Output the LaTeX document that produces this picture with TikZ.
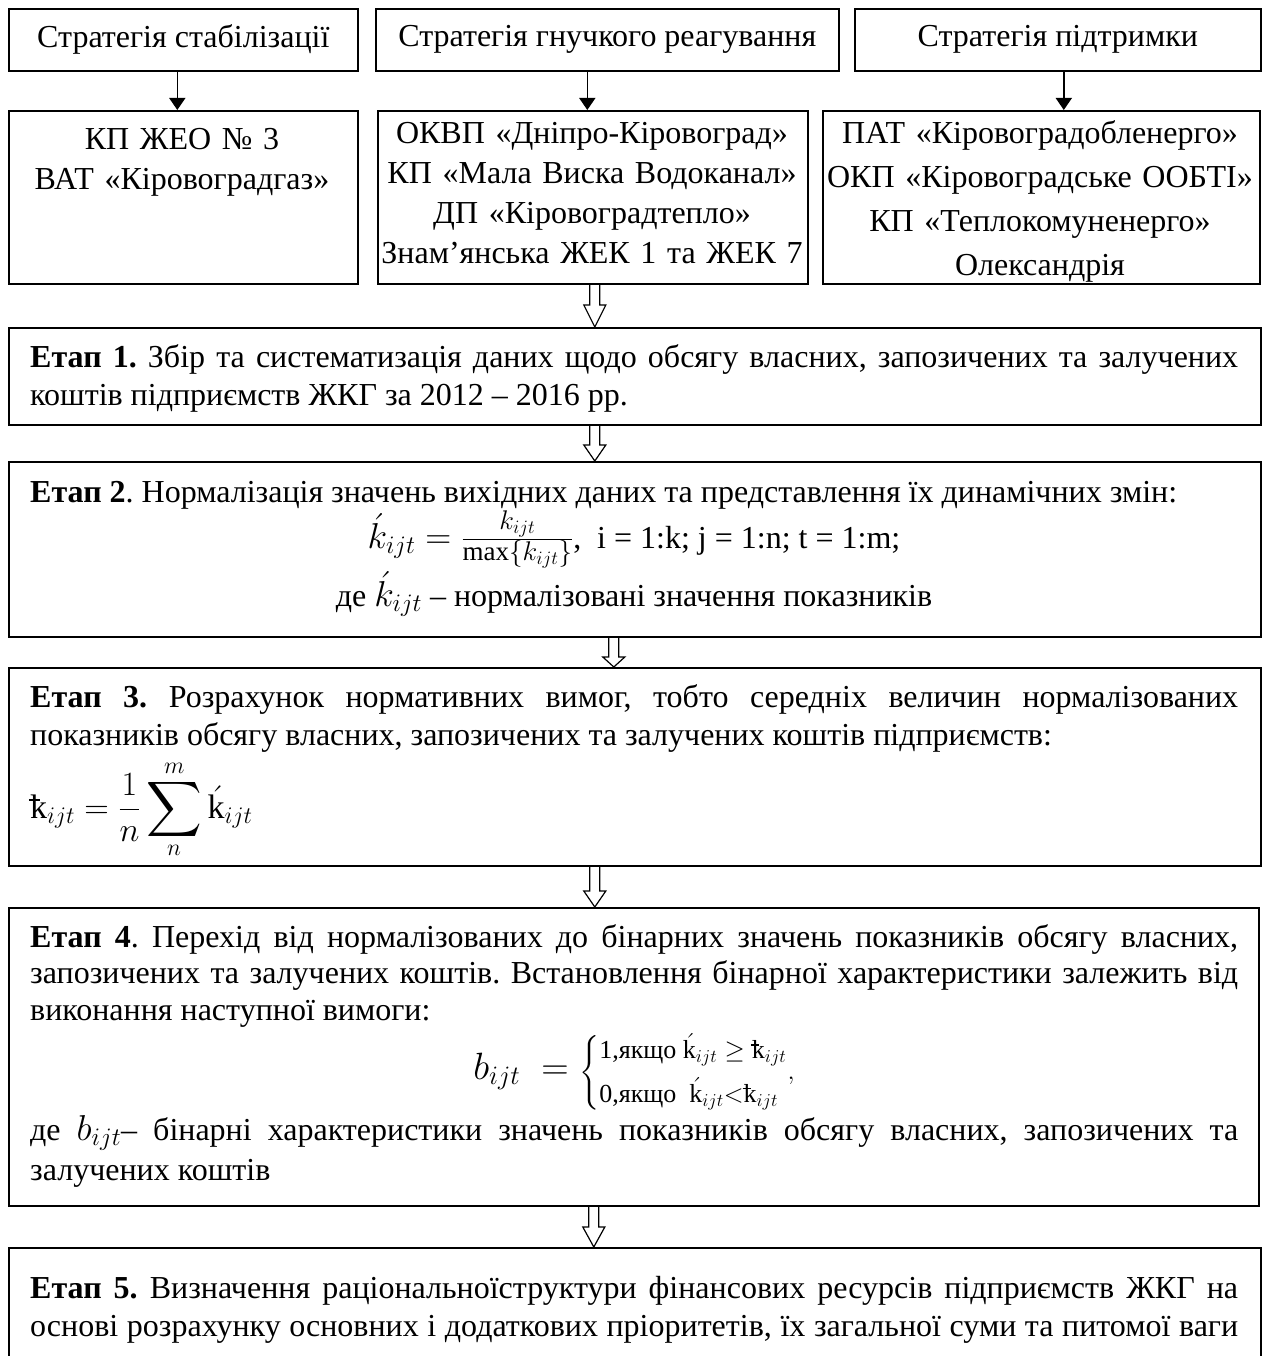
\RequirePackage{fix-cm}
\documentclass[tikz,border=0pt]{standalone}
\usepackage{amsmath}
\usepackage{graphicx}
\usepackage{fontspec}
\setmainfont{Liberation Serif}
\usetikzlibrary{arrows.meta,calc}
\newcommand\kst{\mathord{\rlap{\kern-0.04em\rule[0.5em]{0.32em}{0.05em}}\mathrm{k}}}
\newcommand\kac{\acute{\mathrm{k}}}
\newcommand\mbig[1]{{\fontsize{36}{38}\selectfont$#1$}}
\newcommand\bigsum{\mathop{\vcenter{\hbox{\scalebox{1.55}{$\displaystyle\sum$}}}}\limits}
\newcommand\harrow[3]{\draw[hollow] let \p1=(#1), \p2=(#2) in
  (\x1-5pt,\y1) -- (\x1-5pt,\y2+#3) -- (\x1-11pt,\y2+#3) -- (\x1,\y2)
  -- (\x1+11pt,\y2+#3) -- (\x1+5pt,\y2+#3) -- (\x1+5pt,\y1);}
\begin{document}
\frenchspacing
\begin{tikzpicture}[x=1pt,y=-1pt,
  box/.style={draw, line width=1.6pt, anchor=north west, inner sep=0pt},
  txt/.style={font=\fontsize{32}{38}\selectfont, inner sep=0pt},
  ctxt/.style={inner sep=0pt, align=center, anchor=base},
  para/.style={txt, text width=1208pt, align=justify, anchor=base west},
  arr/.style={line width=1.6pt, -{Triangle[width=16pt,length=12pt]}},
  hollow/.style={line width=1.2pt, line join=miter}]
\useasboundingbox (0,0) rectangle (1267,1356);
% top row
\node[box, minimum width=349pt, minimum height=62pt] (s1) at (8,8) {};
\node[box, minimum width=463pt, minimum height=62pt] (s2) at (375,8) {};
\node[box, minimum width=406pt, minimum height=62pt] (s3) at (854,8) {};
\node[txt] (ts1) at (s1.center) {Стратегія стабілізації};
\node[txt] (ts2) at (s2.center) {Стратегія гнучкого реагування};
\node[txt] (ts3) at (s3.center) {Стратегія підтримки};
% second row
\node[box, minimum width=349pt, minimum height=173pt] (r1) at (8,110) {};
\node[box, minimum width=430pt, minimum height=173pt] (r2) at (377,110) {};
\node[box, minimum width=437pt, minimum height=173pt] (r3) at (822,110) {};
\node[ctxt, text width=345pt, font=\fontsize{32}{40}\selectfont] (tr1) at (182,150)
  {КП ЖЕО № 3\\ВАТ «Кіровоградгаз»};
\node[ctxt, text width=428pt, font=\fontsize{32}{40}\selectfont] (tr2) at (592,144)
  {ОКВП «Дніпро-Кіровоград»\\КП «Мала Виска Водоканал»\\ДП «Кіровоградтепло»\\Знам’янська ЖЕК 1 та ЖЕК 7};
\node[ctxt, text width=435pt, font=\fontsize{32}{44}\selectfont] (tr3) at (1040,144)
  {ПАТ «Кіровоградобленерго»\\ОКП «Кіровоградське ООБТІ»\\КП «Теплокомуненерго»\\Олександрія};
\draw[arr] ([xshift=-6]s1.south) -- ([xshift=-6]s1.south |- r1.north);
\draw[arr] ([xshift=-20]s2.south) -- ([xshift=-20]s2.south |- r2.north);
\draw[arr] ([xshift=6]s3.south) -- ([xshift=6]s3.south |- r3.north);
% stages
\node[box, minimum width=1252pt, minimum height=97pt] (e1) at (8,327) {};
\node[box, minimum width=1252pt, minimum height=175pt] (e2) at (8,461) {};
\node[box, minimum width=1252pt, minimum height=198pt] (e3) at (8,667) {};
\node[box, minimum width=1250pt, minimum height=298pt] (e4) at (8,907) {};
\node[box, minimum width=1252pt, minimum height=160pt] (e5) at (8,1247) {};
% stage 1
\node[para] (p1) at (30,367) {\textbf{Етап 1.} Збір та систематизація даних щодо обсягу власних, запозичених та залучених\linebreak коштів підприємств ЖКГ за 2012 – 2016 рр.};
% stage 2
\node[para] (p2) at (30,502) {\textbf{Етап 2}. Нормалізація значень вихідних даних та представлення їх динамічних змін:};
\node[txt, anchor=base] (f2) at (634,548) {\mbig{\acute{k}_{ijt} = {}}\mbig{\frac{\text{\fontsize{27}{28}\selectfont$k_{ijt}$}}{\text{\fontsize{27}{28}\selectfont$\max\{k_{ijt}\}$}}},\ \ i = 1:k; j = 1:n; t = 1:m;};
\node[txt, anchor=base] (d2) at (634,606) {де \mbig{\acute{k}_{ijt}} – нормалізовані значення показників};
% stage 3
\node[para] (p3) at (30,707) {\textbf{Етап 3.} Розрахунок нормативних вимог, тобто середніх величин нормалізованих\linebreak показників обсягу власних, запозичених та залучених коштів підприємств:};
\node[inner sep=0pt, anchor=base west, font=\fontsize{34}{38}\selectfont] (f3) at (30,818) {$\displaystyle \kst_{ijt} = \frac{1}{n}\bigsum_{n}^{m}\kac_{ijt}$};
% stage 4
\node[para, font=\fontsize{32}{36.5}\selectfont] (p4) at (30,947) {\textbf{Етап 4}. Перехід від нормалізованих до бінарних значень показників обсягу власних,\linebreak запозичених та залучених коштів. Встановлення бінарної характеристики залежить від\linebreak виконання наступної вимоги:};
\node[inner sep=0pt, anchor=base] (f4) at (634,1079) {{\fontsize{38}{40}\selectfont$b_{ijt}\;=\;$}{\fontsize{26}{30}\selectfont$\left\{\begin{array}{@{}l@{}}\text{1,якщо }\kac_{ijt}\ge\kst_{ijt}\\[10pt] \text{0,якщо }\ \kac_{ijt}{<}\kst_{ijt}\end{array}\right.\!,$}};
\node[para, font=\fontsize{32}{40}\selectfont] (d4) at (30,1140) {де \mbig{b_{ijt}}– бінарні характеристики значень показників обсягу власних, запозичених та\linebreak залучених коштів};
% stage 5
\node[para] (p5) at (30,1298) {\parfillskip=0pt \textbf{Етап 5.} Визначення раціональноїструктури фінансових ресурсів підприємств ЖКГ на\linebreak основі розрахунку основних і додаткових пріоритетів, їх загальної суми та питомої ваги\par};
% hollow arrows
\harrow{[xshift=2]r2.south}{[xshift=2]r2.south |- e1.north}{22pt}
\harrow{[xshift=-40]e1.south}{[xshift=-40]e1.south |- e2.north}{16pt}
\harrow{[xshift=-21]e2.south}{[xshift=-21]e2.south |- e3.north}{10pt}
\harrow{[xshift=-40]e3.south}{[xshift=-40]e3.south |- e4.north}{16pt}
\harrow{[xshift=-40]e4.south}{[xshift=-40]e4.south |- e5.north}{20pt}
\end{tikzpicture}
\end{document}
